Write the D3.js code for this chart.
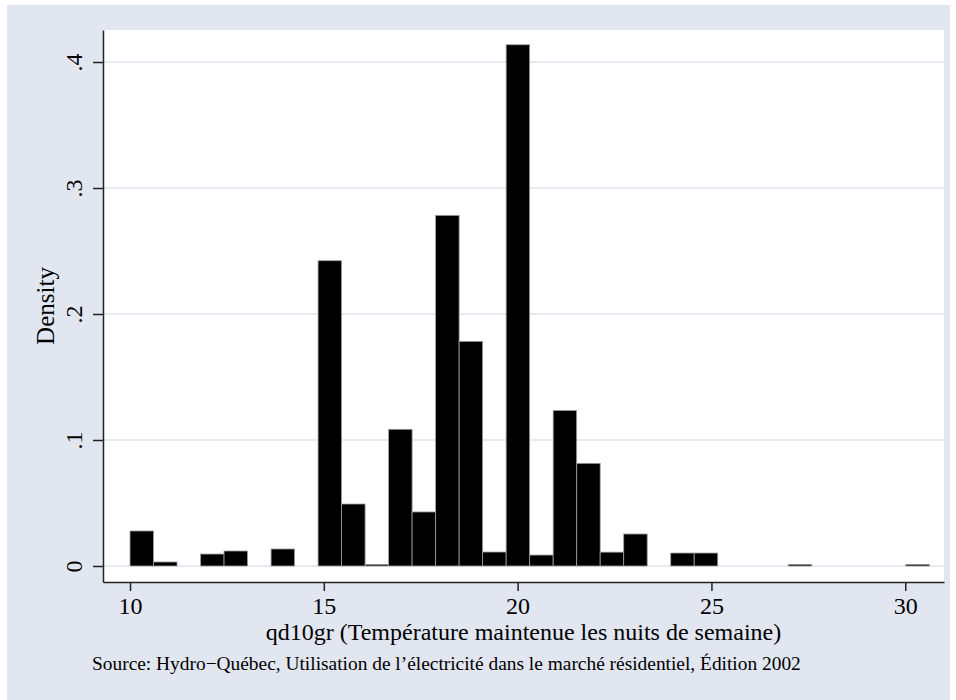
<!DOCTYPE html>
<html>
<head>
<meta charset="utf-8">
<script src="https://cdn.jsdelivr.net/npm/d3@7"></script>
<style>
  body { margin: 0; background: #fff; }
  svg { display: block; font-family: "Liberation Serif", "DejaVu Serif", serif; }
</style>
</head>
<body>
<div id="chart"></div>
<script>
// histogram bins: start of first bin, bin width, density per bin
const binStart = 10;
const binWidth = 0.6065;
const density = [
    0.0278, 0.0032, 0, 0.0095, 0.0119, 0, 0.0135, 0, 0.2423, 0.0492,
    0.0013, 0.1085, 0.0429, 0.2783, 0.1783, 0.0111, 0.4137, 0.0087, 0.1235, 0.0815,
    0.011, 0.0254, 0, 0.0103, 0.0103, 0, 0, 0, 0.0013, 0,
    0, 0, 0, 0.0013
];
const xTicks = [10, 15, 20, 25, 30];
const yTicks = [0, 0.1, 0.2, 0.3, 0.4];
const yTickLabels = ['0', '.1', '.2', '.3', '.4'];
const xTitle = 'qd10gr (Température maintenue les nuits de semaine)';
const yTitle = 'Density';
const note = 'Source: Hydro\u2212Québec, Utilisation de l\u2019électricité dans le marché résidentiel, Édition 2002';

const W = 956, H = 700;
const plot = { left: 103, right: 944, top: 30, bottom: 582 };
const bg = '#e1e6f0';

const svg = d3.select('#chart')
    .append('svg')
    .attr('width', W)
    .attr('height', H);

// outer graph region
svg.append('rect')
    .attr('x', 7)
    .attr('y', 5)
    .attr('width', 943)
    .attr('height', H - 5)
    .attr('fill', bg);

// plot region
svg.append('rect')
    .attr('x', plot.left)
    .attr('y', plot.top)
    .attr('width', plot.right - plot.left)
    .attr('height', plot.bottom - plot.top)
    .attr('fill', '#fff');

const x = d3.scaleLinear()
    .domain([9.3032, 31.0])
    .range([plot.left, plot.right]);

const y = d3.scaleLinear()
    .domain([-0.012698, 0.4254])
    .range([plot.bottom, plot.top]);

// grid lines
svg.append('g')
    .selectAll('line')
    .data(yTicks)
    .join('line')
    .attr('x1', plot.left)
    .attr('x2', plot.right)
    .attr('y1', d => y(d))
    .attr('y2', d => y(d))
    .attr('stroke', '#dde3ef')
    .attr('stroke-width', 1.5);

// bars
const bins = density.map((d, i) => ({ x0: binStart + i * binWidth, x1: binStart + (i + 1) * binWidth, v: d }));

svg.append('g')
    .selectAll('rect')
    .data(bins.filter(b => b.v > 0))
    .join('rect')
    .attr('x', d => x(d.x0))
    .attr('y', d => y(d.v))
    .attr('width', d => x(d.x1) - x(d.x0))
    .attr('height', d => y(0) - y(d.v))
    .attr('fill', '#000')
    .attr('stroke', '#a0a0a0')
    .attr('stroke-width', 0.8);

// axes
const xAxis = svg.append('g')
    .attr('transform', `translate(0,${plot.bottom})`)
    .call(d3.axisBottom(x).tickValues(xTicks).tickSizeInner(9).tickSizeOuter(0).tickPadding(6).tickFormat(d3.format('d')));

const yAxis = svg.append('g')
    .attr('transform', `translate(${plot.left},0)`)
    .call(d3.axisLeft(y).tickValues(yTicks).tickSizeInner(10).tickSizeOuter(0).tickFormat((d, i) => yTickLabels[i]));

[xAxis, yAxis].forEach(a => {
    a.select('.domain').attr('stroke', '#222').attr('stroke-width', 1.5);
    a.selectAll('.tick line').attr('stroke', '#222').attr('stroke-width', 1.5);
    a.selectAll('text')
        .attr('fill', '#000')
        .style('font-family', '"Liberation Serif", serif')
        .style('font-size', '24px');
});

xAxis.selectAll('text').attr('dy', null).attr('y', 32);

yAxis.selectAll('.tick text')
    .attr('x', null)
    .attr('dy', null)
    .attr('text-anchor', 'middle')
    .attr('transform', 'translate(-21,0) rotate(-90)');

// axis titles
svg.append('text')
    .attr('x', (plot.left + plot.right) / 2)
    .attr('y', 640)
    .attr('text-anchor', 'middle')
    .style('font-size', '24px')
    .text(xTitle);

svg.append('text')
    .attr('transform', `translate(54,${(plot.top + plot.bottom) / 2}) rotate(-90)`)
    .attr('text-anchor', 'middle')
    .style('font-size', '25px')
    .text(yTitle);

// note
svg.append('text')
    .attr('x', 92)
    .attr('y', 670)
    .style('font-size', '19.4px')
    .text(note);
</script>
</body>
</html>
